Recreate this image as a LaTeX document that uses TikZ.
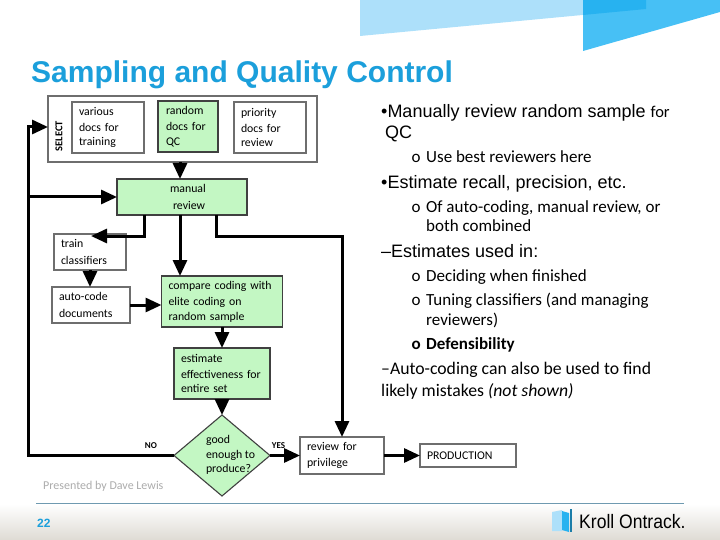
\documentclass[tikz,border=0pt]{standalone}
\usepackage{fontspec}
\setmainfont{Carlito}
\newfontfamily\arialfont{Liberation Sans}
\newfontfamily\logofont[FakeStretch=0.9]{Liberation Sans}
\usetikzlibrary{arrows.meta, positioning, shapes.geometric}
\definecolor{boxgreen}{HTML}{C3F7C3}
\definecolor{boxgrey}{HTML}{6E6E6E}
\definecolor{titleblue}{HTML}{1B9FDB}
\definecolor{skylight}{HTML}{ADE0FA}
\definecolor{skymid}{HTML}{47C0F5}
\definecolor{skydark}{HTML}{27B2F0}
\definecolor{rulesteel}{HTML}{6F9AB0}
\definecolor{footgrey}{HTML}{DEDBD4}

\begin{document}
\begin{tikzpicture}[
    x=1pt, y=-1pt,
    frame box/.style={rectangle, draw=boxgrey, line width=1.6pt, fill=white, outer sep=0pt, inner sep=0pt, align=left, font=\fontsize{11.8}{14.4}\selectfont},
    white box/.style={frame box, execute at begin node={\vspace*{2pt}}},
    green box/.style={white box, draw=black!75, line width=1.1pt, fill=boxgreen},
    flow/.style={line width=3pt, -{Triangle[length=16pt, width=14pt]}},
    small tag/.style={font=\fontsize{9}{10}\selectfont\bfseries, inner sep=0pt},
    head line/.style={anchor=base west, inner sep=0pt, font=\arialfont\fontsize{18}{20}\selectfont},
    sub line/.style={anchor=base west, inner sep=0pt, font=\fontsize{17}{20}\selectfont},
    wide line/.style={sub line, font=\fontsize{17.7}{20}\selectfont}
]
    \useasboundingbox (0,0) rectangle (720,540);

    % Page decoration
    \fill[skylight] (360,0) -- (360,36) -- (646,9) -- (646,0) -- cycle;
    \fill[skymid] (583,0) -- (583,51) -- (720,12) -- (720,0) -- cycle;
    \fill[skydark] (583,0) -- (583,15) -- (646,9) -- (646,0) -- cycle;
    \shade[top color=white, bottom color=footgrey] (0,504) rectangle (720,540);
    \draw[rulesteel, line width=1.3pt] (36,503.5) -- (684,503.5);
    \fill[skylight] (552,512) -- (562,510) -- (562,531) -- (552,531) -- cycle;
    \fill[skydark] (562,511) -- (569,513) -- (569,532) -- (562,530) -- cycle;
    \fill[skydark!70!black] (570,509) -- (572,509) -- (572,532) -- (570,532) -- cycle;
    \node[anchor=base west, inner sep=0pt, font=\logofont\fontsize{19.5}{20}\selectfont] (logo) at (579,528) {Kroll Ontrack.};
    \node[anchor=base west, inner sep=0pt, text=titleblue, font=\arialfont\bfseries\fontsize{12}{12}\selectfont] (pageno) at (37,527) {22};
    \node[anchor=base west, inner sep=0pt, text=black!33, font=\fontsize{12}{12}\selectfont] (presenter) at (43,489) {Presented by Dave Lewis};

    % Title
    \node[anchor=base west, inner sep=0pt, text=titleblue, font=\arialfont\bfseries\fontsize{30}{32}\selectfont] (title) at (31,83) {Sampling and Quality Control};

    % Select group
    \node[frame box, minimum width=269pt, minimum height=66pt] (select) at (182.5,129) {};
    \node[font=\fontsize{10.5}{12}\selectfont\bfseries, rotate=90, inner sep=0pt] (selecttag) at (59,136) {SELECT};
    \node[white box, minimum width=72pt, minimum height=51pt, text width=58pt] (various) at (108,127.5) {various\\docs for\\training};
    \node[green box, minimum width=60pt, minimum height=51pt, text width=44pt] (random) at (188,126.5) {random\\docs for\\QC};
    \node[white box, minimum width=72pt, minimum height=51pt, text width=58pt] (priority) at (270,127.5) {priority\\docs for\\review};

    % Process boxes
    \node[green box, minimum width=130pt, minimum height=36pt, text width=60pt] (manual) at (182,197) {\hspace*{18pt}manual\\\hspace*{21pt}review};
    \node[white box, minimum width=72pt, minimum height=36pt, text width=58pt] (train) at (90,252) {train\\classifiers};
    \node[white box, minimum width=78pt, minimum height=36pt, text width=64pt] (auto) at (91,305) {auto-code\\documents};
    \node[green box, minimum width=121pt, minimum height=51pt, text width=107pt] (compare) at (222,301.5) {compare coding with\\elite coding on\\random sample};
    \node[green box, minimum width=96pt, minimum height=51pt, text width=82pt] (estimate) at (222,373.5) {estimate\\effectiveness for\\entire set};
    \node[frame box, draw=black!75, line width=1.1pt, fill=boxgreen, diamond, minimum width=96pt, minimum height=81pt] (good) at (222,455.5) {};
    \node[inner sep=0pt, align=left, font=\fontsize{11.8}{14.4}\selectfont] (goodtext) at (230.5,455) {good\\enough to\\produce?};
    \node[white box, minimum width=84pt, minimum height=37pt, text width=70pt] (review) at (342,455.5) {review for\\privilege};
    \node[frame box, minimum width=96pt, minimum height=23pt, text width=82pt] (production) at (468,455.5) {PRODUCTION};

    % Free ends of connectors
    \coordinate (trunk) at (28,127);
    \coordinate (manualin) at (180,179);
    \coordinate (comparein) at (180,276);
    \coordinate (trainfork) at (144,236);
    \coordinate (trainin) at (91,236);
    \coordinate (reviewfork) at (216,236);

    % Connectors
    \draw[flow] (good.west) -| (trunk) -- (select.west |- trunk);
    \draw[flow] (manual.west -| trunk) -- (manual.west);
    \draw[flow] (select.south -| manualin) -- (manualin);
    \draw[flow] (manual.south -| comparein) -- (comparein);
    \draw[flow] (manual.south -| trainfork) -- (trainfork) -- (trainin);
    \draw[flow] (manual.south -| reviewfork) -- (reviewfork) -| (review.north);
    \draw[flow] (train.south) -- (train.south |- auto.north);
    \draw[flow] (auto.east) -- (auto.east -| compare.west);
    \draw[flow] (compare.south) -- (estimate.north);
    \draw[flow] (estimate.south) -- (good.north);
    \draw[flow] (good.east) -- (review.west);
    \draw[flow] (review.east) -- (production.west);

    % Branch tags
    \node[small tag] (notag) at (151,446) {NO};
    \node[small tag] (yestag) at (278.5,446) {YES};

    % Notes on the right
    \node[head line] (note1) at (381,118) {•Manually review random sample {\fontsize{16.5}{20}\selectfont\rmfamily for}};
    \node[head line] (note1b) at (385,139) {QC};
    \node[sub line] (mark1) at (411.5,163) {o};
    \node[sub line] (note2) at (426,163) {Use best reviewers here};
    \node[head line] (note3) at (381,188.5) {•Estimate recall, precision, etc.};
    \node[sub line] (mark2) at (411.5,212) {o};
    \node[sub line] (note4) at (426,212) {Of auto-coding, manual review, or};
    \node[sub line] (note4b) at (426,232) {both combined};
    \node[head line] (note5) at (381,257) {–Estimates used in:};
    \node[sub line] (mark3) at (411.5,281) {o};
    \node[sub line] (note6) at (426,281) {Deciding when finished};
    \node[sub line] (mark4) at (411.5,305) {o};
    \node[sub line] (note7) at (426,305) {Tuning classifiers (and managing};
    \node[sub line] (note7b) at (426,325) {reviewers)};
    \node[sub line] (mark5) at (411.5,349) {\bfseries o};
    \node[sub line] (note8) at (426,349) {\bfseries Defensibility};
    \node[wide line] (note9) at (381,374) {–Auto-coding can also be used to find};
    \node[wide line] (note9b) at (381,396) {likely mistakes \emph{(not shown)}};
\end{tikzpicture}
\end{document}
